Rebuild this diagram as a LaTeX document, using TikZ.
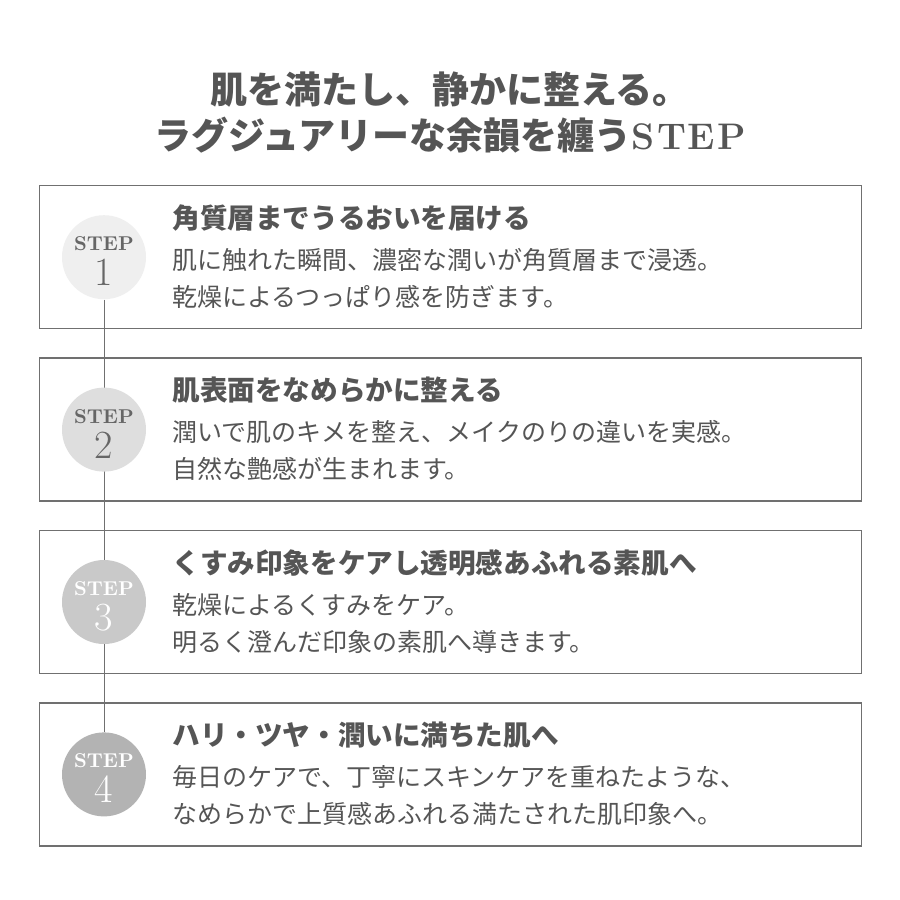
\documentclass[tikz,border=0pt]{standalone}
\usepackage{fontspec}
\newfontfamily\jpfont{Noto Sans CJK JP}
\usetikzlibrary{positioning, backgrounds, calc}
\definecolor{ink}{HTML}{555555}
\definecolor{frame}{HTML}{707070}
\definecolor{stepA}{HTML}{EFEFEF}
\definecolor{stepB}{HTML}{DEDEDE}
\definecolor{stepC}{HTML}{C9C9C9}
\definecolor{stepD}{HTML}{B3B3B3}
\newcommand{\stepmark}[1]{\rule{0pt}{11pt}{\bfseries STEP}\\{\fontsize{20}{16}\selectfont #1}}

\begin{document}
\begin{tikzpicture}[
    x=0.5pt, y=-0.5pt,
    node distance=14pt,
    card/.style={draw=frame, line width=0.7pt, rectangle,
                 minimum width=411pt, minimum height=71.5pt, inner sep=0pt},
    badge/.style={circle, minimum size=42pt, inner sep=0pt, align=center,
                  font=\rmfamily\fontsize{10}{17.5}\selectfont},
    title/.style={font=\jpfont\bfseries\fontsize{18.5}{22}\selectfont, text=ink},
    head/.style={anchor=west, inner sep=0pt, text=ink,
                 font=\jpfont\bfseries\fontsize{13.8}{16}\selectfont},
    body/.style={anchor=west, inner sep=0pt, align=left, text=ink,
                 font=\jpfont\fontsize{12.5}{18.5}\selectfont},
    link/.style={draw=frame, line width=0.5pt}
]
\useasboundingbox (0,0) rectangle (900,900);
% Title
\node[title] (title1) at (450,90) {肌を満たし、静かに整える。};
\node[title] (title2) at (450,135) {ラグジュアリーな余韻を纏う{\rmfamily\bfseries S\kern1pt T\kern1pt E\kern1pt P}};
% Step cards
\node[card, anchor=north west] (box1) at (39,185) {};
\node[card, below=of box1] (box2) {};
\node[card, below=of box2] (box3) {};
\node[card, below=of box3] (box4) {};
% Badges
\node[badge, fill=stepA, text=ink!90] (c1) at ([xshift=32.5pt]box1.west) {\stepmark{1}};
\node[badge, fill=stepB, text=ink!90] (c2) at ([xshift=32.5pt]box2.west) {\stepmark{2}};
\node[badge, fill=stepC, text=white] (c3) at ([xshift=32.5pt]box3.west) {\stepmark{3}};
\node[badge, fill=stepD, text=white] (c4) at ([xshift=32.5pt]box4.west) {\stepmark{4}};
\begin{scope}[on background layer]
\fill[white] (0,0) rectangle (900,900);
\draw[link] (c1) -- (c4);
\end{scope}
% Step 1
\node[head] (h1) at ([shift={(66.5pt,-16.5pt)}]box1.north west)
      {角質層までうるおいを届ける};
\node[body] (t1) at ([shift={(66.5pt,-46.75pt)}]box1.north west)
      {肌に触れた瞬間、濃密な潤いが角質層まで浸透。\\乾燥によるつっぱり感を防ぎます。};
% Step 2
\node[head] (h2) at ([shift={(66.5pt,-16.5pt)}]box2.north west)
      {肌表面をなめらかに整える};
\node[body] (t2) at ([shift={(66.5pt,-46.75pt)}]box2.north west)
      {潤いで肌のキメを整え、メイクのりの違いを実感。\\自然な艶感が生まれます。};
% Step 3
\node[head] (h3) at ([shift={(66.5pt,-16.5pt)}]box3.north west)
      {くすみ印象をケアし透明感あふれる素肌へ};
\node[body] (t3) at ([shift={(66.5pt,-46.75pt)}]box3.north west)
      {乾燥によるくすみをケア。\\明るく澄んだ印象の素肌へ導きます。};
% Step 4
\node[head] (h4) at ([shift={(66.5pt,-16.5pt)}]box4.north west)
      {ハリ・ツヤ・潤いに満ちた肌へ};
\node[body] (t4) at ([shift={(66.5pt,-46.75pt)}]box4.north west)
      {毎日のケアで、丁寧にスキンケアを重ねたような、\\なめらかで上質感あふれる満たされた肌印象へ。};
\end{tikzpicture}
\end{document}
